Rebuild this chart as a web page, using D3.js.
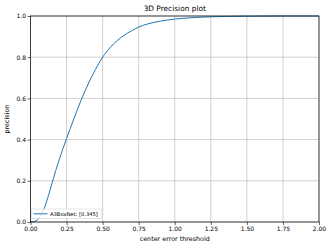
<!DOCTYPE html>
<html>
<head>
<meta charset="utf-8">
<script src="https://cdn.jsdelivr.net/npm/d3@7"></script>
<style>
  body { margin: 0; background: #fff; }
  svg { display: block; font-family: "DejaVu Sans", sans-serif; }
</style>
</head>
<body>
<div class="chart"></div>
<script>
// threshold values and precision
var thresholds = [0, 0.025, 0.05, 0.075, 0.1, 0.125, 0.15, 0.175, 0.2, 0.25, 0.3, 0.35, 0.4, 0.45, 0.5,
                  0.55, 0.6, 0.65, 0.7, 0.75, 0.8, 0.9, 1.0, 1.1, 1.25, 1.5, 1.75, 2.0];
var precision  = [0, 0.002, 0.012, 0.035, 0.075, 0.13, 0.19, 0.25, 0.305, 0.405, 0.5, 0.59, 0.67, 0.74, 0.8,
                  0.845, 0.88, 0.907, 0.928, 0.946, 0.959, 0.975, 0.985, 0.991, 0.996, 0.999, 1.0, 1.0];
var xTicks = [0, 0.25, 0.5, 0.75, 1.0, 1.25, 1.5, 1.75, 2.0];
var yTicks = [0, 0.2, 0.4, 0.6, 0.8, 1.0];
var seriesName = "A3BoxNet: [0.345]";

var width = 332;
var height = 248;
var margin = {top: 16, right: 13, bottom: 26, left: 30.5};

var svg = d3.select(".chart")
            .append("svg")
              .attr("width", width)
              .attr("height", height);

var x = d3.scaleLinear().domain([0, 2]).range([margin.left, width - margin.right]);
var y = d3.scaleLinear().domain([0, 1]).range([height - margin.bottom, margin.top]);

// grid
svg.append("g")
   .selectAll("line")
   .data(xTicks)
   .enter()
   .append("line")
    .attr("x1", function(d) { return x(d); })
    .attr("x2", function(d) { return x(d); })
    .attr("y1", y(0))
    .attr("y2", y(1))
    .attr("stroke", "#b0b0b0")
    .attr("stroke-width", 0.6);

svg.append("g")
   .selectAll("line")
   .data(yTicks)
   .enter()
   .append("line")
    .attr("x1", x(0))
    .attr("x2", x(2))
    .attr("y1", function(d) { return y(d); })
    .attr("y2", function(d) { return y(d); })
    .attr("stroke", "#b0b0b0")
    .attr("stroke-width", 0.6);

// curve
var line = d3.line()
  .x(function(d, i) { return x(thresholds[i]); })
  .y(function(d) { return y(d); })
  .curve(d3.curveMonotoneX);

svg.append("path")
   .datum(precision)
   .attr("d", line)
   .attr("fill", "none")
   .attr("stroke", "#1f77b4")
   .attr("stroke-width", 1);

// axes
var xAxis = d3.axisBottom(x).tickValues(xTicks).tickFormat(d3.format(".2f")).tickSize(3).tickSizeOuter(0);
var yAxis = d3.axisLeft(y).tickValues(yTicks).tickFormat(d3.format(".1f")).tickSize(3).tickSizeOuter(0);

var gx = svg.append("g")
   .attr("transform", "translate(0," + y(0) + ")")
   .call(xAxis);
var gy = svg.append("g")
   .attr("transform", "translate(" + x(0) + ",0)")
   .call(yAxis);

[gx, gy].forEach(function(g) {
  g.select(".domain").remove();
  g.selectAll("line").attr("stroke", "#000").attr("stroke-width", 0.6);
  g.selectAll("text")
   .attr("fill", "#000")
   .attr("font-family", "DejaVu Sans, sans-serif")
   .attr("font-size", "6px");
});
gx.selectAll("text").attr("dy", "0.75em").attr("y", 4.5);
gy.selectAll("text").attr("x", -4.5);

// frame
svg.append("rect")
   .attr("x", x(0))
   .attr("y", y(1))
   .attr("width", x(2) - x(0))
   .attr("height", y(0) - y(1))
   .attr("fill", "none")
   .attr("stroke", "#000")
   .attr("stroke-width", 0.7);

// title and labels
svg.append("text")
   .text("3D Precision plot")
   .attr("x", (x(0) + x(2)) / 2)
   .attr("y", 10.5)
   .attr("text-anchor", "middle")
   .attr("font-size", "7.4px");

svg.append("text")
   .text("center error threshold")
   .attr("x", (x(0) + x(2)) / 2)
   .attr("y", 241)
   .attr("text-anchor", "middle")
   .attr("font-size", "6.4px");

svg.append("text")
   .text("precision")
   .attr("transform", "translate(9," + ((y(0) + y(1)) / 2) + ") rotate(-90)")
   .attr("text-anchor", "middle")
   .attr("font-size", "6.4px");

// legend
var legend = svg.append("g");
legend.append("rect")
   .attr("x", 31.5)
   .attr("y", 209)
   .attr("width", 70.5)
   .attr("height", 9.5)
   .attr("rx", 1)
   .attr("fill", "#fff")
   .attr("fill-opacity", 0.8)
   .attr("stroke", "#ccc")
   .attr("stroke-width", 0.5);
legend.append("line")
   .attr("x1", 33.5)
   .attr("x2", 47.5)
   .attr("y1", 213.8)
   .attr("y2", 213.8)
   .attr("stroke", "#1f77b4")
   .attr("stroke-width", 1);
legend.append("text")
   .text(seriesName)
   .attr("x", 50)
   .attr("y", 215.8)
   .attr("font-size", "5.2px");
</script>
</body>
</html>
